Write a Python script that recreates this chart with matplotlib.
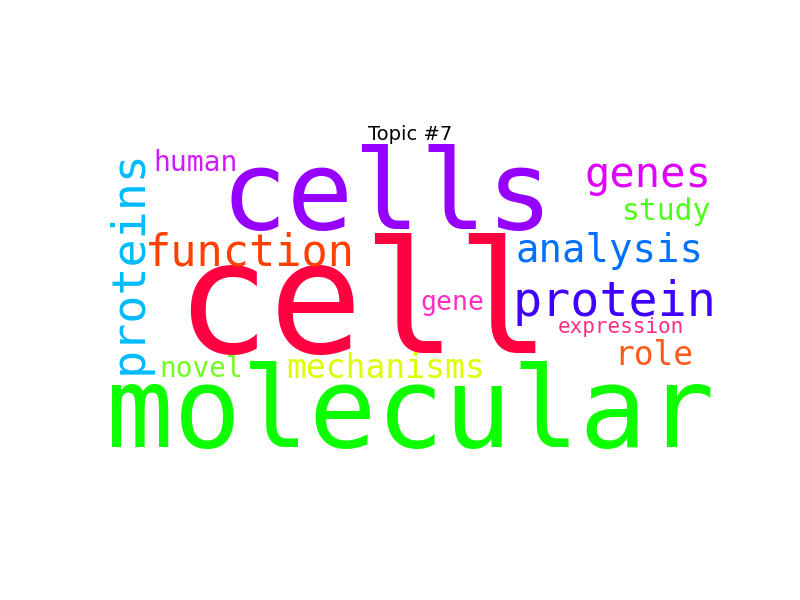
import matplotlib
matplotlib.use("Agg")
import matplotlib.pyplot as plt

# ---- data ----
words = ["cell", "molecular", "cells", "protein", "proteins", "function",
         "analysis", "genes", "mechanisms", "role", "study", "novel",
         "human", "gene", "expression"]
weights = [1.00, 0.72, 0.71, 0.31, 0.30, 0.28, 0.25, 0.27, 0.212, 0.21,
           0.19, 0.178, 0.18, 0.17, 0.135]
title = "Topic #7"

# ---- layout (word-cloud canvas 400 x 200) ----
canvas_w, canvas_h = 400, 200
max_size = 100.6  # font size (canvas px) of the top word
# x centre, baseline y, rotation
layout = {
    "cell":       (169.7, 132.3, 0),
    "molecular":  (200.0, 192.9, 0),
    "cells":      (185.5, 52.3, 0),
    "protein":    (331.6, 108.4, 0),
    "proteins":   (27.1, 73.5, 90),
    "function":   (96.8, 75.5, 0),
    "analysis":   (328.4, 73.5, 0),
    "genes":      (353.5, 25.2, 0),
    "mechanisms": (184.5, 148.5, 0),
    "role":       (357.4, 140.0, 0),
    "study":      (365.8, 46.5, 0),
    "novel":      (65.0, 148.0, 0),
    "human":      (61.9, 14.8, 0),
    "gene":       (227.1, 104.5, 0),
    "expression": (336.1, 119.4, 0),
}
colors = {
    "cell": "#ff0040", "molecular": "#0dff00", "cells": "#9500ff",
    "protein": "#4000ff", "proteins": "#00bbff", "function": "#ff4000",
    "analysis": "#0070ff", "genes": "#e100ff", "mechanisms": "#dcff00",
    "role": "#ff5a1a", "study": "#4cff1a", "novel": "#6fff1a",
    "human": "#d21aff", "gene": "#ff2ebd", "expression": "#ff2e7f",
}

fig = plt.figure(figsize=(8, 6), dpi=100)
ax = fig.add_subplot(111)
ax.set_xlim(0, canvas_w)
ax.set_ylim(canvas_h, 0)
ax.set_aspect("equal")
ax.axis("off")
ax.set_title(title, fontsize=14)
fig.canvas.draw()
px_per_unit = ax.get_window_extent().width / canvas_w
pt_per_px = 72.0 / fig.dpi

for w, wt in zip(words, weights):
    x, y, rot = layout[w]
    size_px = max_size * wt * px_per_unit
    ax.text(x, y, w, fontsize=size_px * pt_per_px, color=colors[w],
            family="DejaVu Sans Mono", ha="center", va="baseline",
            rotation=rot, rotation_mode="anchor")

fig.savefig("out.png", dpi=100)
